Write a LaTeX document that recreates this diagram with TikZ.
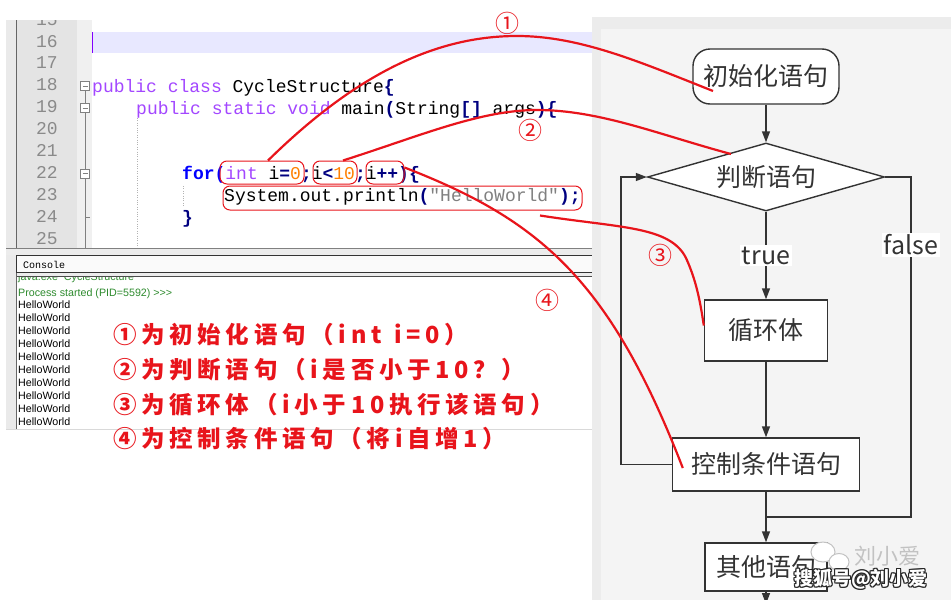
\documentclass[tikz,border=0pt]{standalone}
\usepackage{fontspec}
\usetikzlibrary{arrows.meta,shapes.geometric}
\newfontfamily\cjk{Noto Sans CJK SC}
\newfontfamily\redcjk[LetterSpace=20]{Noto Sans CJK SC}
\newfontfamily\codef{Liberation Mono}
\newfontfamily\consf{Liberation Sans}
\definecolor{redann}{HTML}{E8141B}
\definecolor{kwc}{HTML}{A347FF}
\definecolor{opc}{HTML}{000080}
\definecolor{numc}{HTML}{FF8000}
\definecolor{strc}{HTML}{808080}
\definecolor{forc}{HTML}{0000FF}
\definecolor{lnc}{HTML}{8A8A8A}
\definecolor{gutc}{HTML}{E4E4E4}
\definecolor{foldc}{HTML}{F0F0F0}
\definecolor{hlc}{HTML}{E8E8FF}
\definecolor{curc}{HTML}{8000FF}
\definecolor{consgreen}{HTML}{2E8B2E}
\definecolor{flowc}{HTML}{333333}
\definecolor{panelc}{HTML}{F4F4F4}
\definecolor{panelo}{HTML}{ECECEC}
\definecolor{stripc}{HTML}{EAEAEA}
\definecolor{wmgray}{HTML}{C2C2C2}
\newcommand\ckw[1]{\textcolor{kwc}{#1}}
\newcommand\cop[1]{\textcolor{opc}{\bfseries #1}}
\newcommand\cnum[1]{\textcolor{numc}{#1}}
\newcommand\cstr[1]{\textcolor{strc}{#1}}
\newcommand\cfor[1]{\textcolor{forc}{\bfseries #1}}
\begin{document}
\begin{tikzpicture}[x=1pt,y=-1pt,
  codeline/.style={anchor=base west, inner sep=0pt, font=\codef\fontsize{18}{18}\selectfont},
  lnum/.style={anchor=base, inner sep=0pt, text=lnc, font=\codef\fontsize{18}{18}\selectfont},
  cons/.style={anchor=base west, inner sep=0pt, font=\consf\fontsize{10.7}{11}\selectfont},
  redlist/.style={anchor=west, inner sep=0pt, text=redann, font=\redcjk\bfseries\fontsize{23.5}{23.5}\selectfont},
  redlabel/.style={inner sep=0pt, text=redann, font=\cjk\fontsize{24}{24}\selectfont},
  rbox/.style={draw=redann, line width=1pt, rounded corners=7pt, inner sep=0pt},
  redline/.style={draw=redann, line width=2.2pt},
  flowbox/.style={draw=flowc, fill=white, line width=1.4pt, inner sep=0pt, text=flowc, font=\cjk\fontsize{25}{25}\selectfont},
  flowline/.style={draw=flowc, line width=1.4pt},
  flowarrow/.style={flowline, -{Triangle[length=11pt,width=8pt]}},
  tflabel/.style={fill=white, inner sep=2pt, text=flowc, font=\cjk\fontsize{25}{25}\selectfont},
  foldbox/.style={draw=gray, fill=white, line width=0.8pt, minimum width=9pt, minimum height=9pt, inner sep=0pt},
  wm/.style={inner sep=0pt, font=\cjk\bfseries\fontsize{19}{19}\selectfont}
]
\useasboundingbox[fill=white] (0,0) rectangle (951,600);

% ---------- editor ----------
\fill[stripc] (6,20) rectangle (17,430);
\fill[gutc] (17,20) rectangle (77,248);
\fill[foldc] (77,20) rectangle (92,248);
\fill[white] (92,20) rectangle (592,248);
\fill[hlc] (92,32) rectangle (592,53);
\draw[curc, line width=1.5pt] (92.5,32) -- (92.5,53);
\draw[black!60] (16.5,20) -- (16.5,430);
\begin{scope}
  \clip (17,20) rectangle (77,248);
  \foreach \n in {15,...,25}
    \node[lnum] (ln\n) at (47,{47+(\n-16)*21.95}) {\n};
\end{scope}
% fold markers
\draw[gray, line width=0.8pt] (85,91) -- (85,248);
\draw[gray, line width=0.8pt] (85,217.5) -- (90,217.5);
\foreach \yy/\nm in {86/f18,107.9/f19,173.7/f22}{
  \node[foldbox] (\nm) at (85,\yy) {};
  \draw[gray, line width=0.8pt] ([xshift=-2.5pt]\nm.center) -- ([xshift=2.5pt]\nm.center);
}
% indent guides
\draw[gray!60, dotted] (137,118) -- (137,248);
\draw[gray!60, dotted] (183,186) -- (183,207);
% code
\node[codeline] (c18) at (92,92) {\ckw{public class} CycleStructure\cop{\{}};
\node[codeline] (c19) at (136,114) {\ckw{public static void} main\cop{(}String\cop{[]} args\cop{)\{}};
\node[codeline] (c22) at (182,179.7) {\cfor{for(}\ckw{int} i\cop{=}\cnum{0}\cop{;}i\cop{<}\cnum{10}\cop{;}i\cop{++)\{}};
\node[codeline] (c23) at (224,201.6) {System.out.println\cop{(}\cstr{"HelloWorld"}\cop{);}};
\node[codeline] (c24) at (182,223.6) {\cop{\}}};
\draw[gray] (6,248.5) -- (592,248.5);
\fill[panelo] (6,249) rectangle (592,255);

% ---------- console ----------
\draw[draw=black!80, fill=black!2] (16.5,255.5) rectangle (592,272.5);
\node[anchor=base west, inner sep=0pt, font=\codef\fontsize{10}{10}\selectfont] (constab) at (23,268.5) {Console};
\fill[panelo] (17,273) rectangle (592,276);
\fill[white] (17,276.5) rectangle (592,429);
\draw[black!70] (16.5,276.5) -- (592,276.5);
\draw[black!15] (6,429.5) -- (592,429.5);
\begin{scope}
  \clip (17,277) rectangle (591,429);
  \node[cons, text=consgreen] (cjava) at (18,280.5) {java.exe\ \ CycleStructure};
  \node[cons, text=consgreen] (cproc) at (18,296) {Process started (PID=5592) >>>};
  \foreach \k in {0,...,9}
    \node[cons] (hw\k) at (18,{308+13*\k}) {HelloWorld};
\end{scope}

% ---------- red list ----------
\node[redlist] (t1) at (113,335) {①为初始化语句（int\makebox[13pt]{}i=0）};
\node[redlist] (t2) at (113,370) {②为判断语句（i是否小于10？）};
\node[redlist] (t3) at (113,405) {③为循环体（i小于10执行该语句）};
\node[redlist] (t4) at (113,439) {④为控制条件语句（将i自增1）};

% ---------- right panel ----------
\fill[panelo] (592,17) rectangle (951,600);
\fill[panelc] (601,29) rectangle (951,600);

% ---------- flowchart ----------
\node[flowbox, rounded corners=17pt, minimum width=146pt, minimum height=55pt] (init) at (766,76.5) {初始化语句};
\node[flowbox, diamond, shape aspect=3.49, minimum width=237pt, minimum height=68pt] (dec) at (766,177) {判断语句};
\node[flowbox, minimum width=123pt, minimum height=61pt] (body) at (766,330.5) {循环体};
\node[flowbox, minimum width=187pt, minimum height=53pt] (ctrl) at (766,464.5) {控制条件语句};
\node[flowbox, minimum width=122pt, minimum height=48pt] (other) at (766,567) {其他语句};
\coordinate (lx) at (621,0);
\coordinate (fcorner) at (911,177);
\coordinate (fjoin) at (911,517);
\coordinate (outend) at (766,604);
\draw[flowarrow] (init.south) -- (dec.north);
\draw[flowarrow] (dec.south) -- (body.north) node[tflabel, pos=0.5] (tlab) {true};
\draw[flowarrow] (body.south) -- (ctrl.north);
\draw[flowarrow] (ctrl.south) -- (other.north);
\draw[flowarrow] (ctrl.west) -- (ctrl.west -| lx) -- (dec.west -| lx) -- (dec.west);
\draw[flowline] (dec.east) -- (fcorner) -- (fjoin) -- (ctrl.south |- fjoin);
\node[tflabel] (flab) at (911,245) {false};
\draw[flowarrow] (other.south) -- (outend);

% ---------- red annotations ----------
\node[rbox, minimum width=84pt, minimum height=23pt] (b1) at (262,172.5) {};
\node[rbox, minimum width=44pt, minimum height=23pt] (b2) at (335,172.5) {};
\node[rbox, minimum width=38pt, minimum height=23pt] (b3) at (385,172.5) {};
\node[rbox, minimum width=359pt, minimum height=24pt] (b4) at (402.5,198) {};
\draw[redline] ([xshift=6pt]b1.north) .. controls (360,70) and (440,36) .. (517,36)
   .. controls (580,36) and (640,62) .. ([xshift=-53pt,yshift=-14.5pt]init.center);
\draw[redline] ([xshift=8pt]b2.north) .. controls (420,136) and (480,110) .. (537,110)
   .. controls (600,110) and (660,135) .. ([xshift=-35pt,yshift=23pt]dec.center);
\draw[redline] ([xshift=137.5pt,yshift=-5pt]b4.south) .. controls (620,228) and (670,226) .. (686,258)
   .. controls (696,280) and (700,300) .. ([yshift=5pt]body.west);
\draw[redline] ([yshift=5pt]b3.east) .. controls (540,220) and (610,280) .. ([xshift=11pt,yshift=-3.5pt]ctrl.west);
\node[redlabel] (n1) at (507,23) {①};
\node[redlabel] (n2) at (530,130) {②};
\node[redlabel] (n3) at (660,255) {③};
\node[redlabel] (n4) at (547,300) {④};

% ---------- watermark ----------
\draw[wmgray, fill=white, line width=1pt] (823,552) ellipse (12 and 10);
\draw[wmgray, fill=white, line width=1pt] (839,562) ellipse (10 and 8.5);
\node[inner sep=0pt, text=wmgray, font=\cjk\fontsize{22}{22}\selectfont] (wm1) at (887,556) {刘小爱};
\foreach \dx/\dy [count=\k] in {-1/0,1/0,0/-1,0/1,-1/-1,1/1,-1/1,1/-1}
  \node[wm, text=black!85] (wmo\k) at ({861+\dx},{579+\dy}) {搜狐号@刘小爱};
\node[wm, text=white] (wm2) at (861,579) {搜狐号@刘小爱};
\end{tikzpicture}
\end{document}
